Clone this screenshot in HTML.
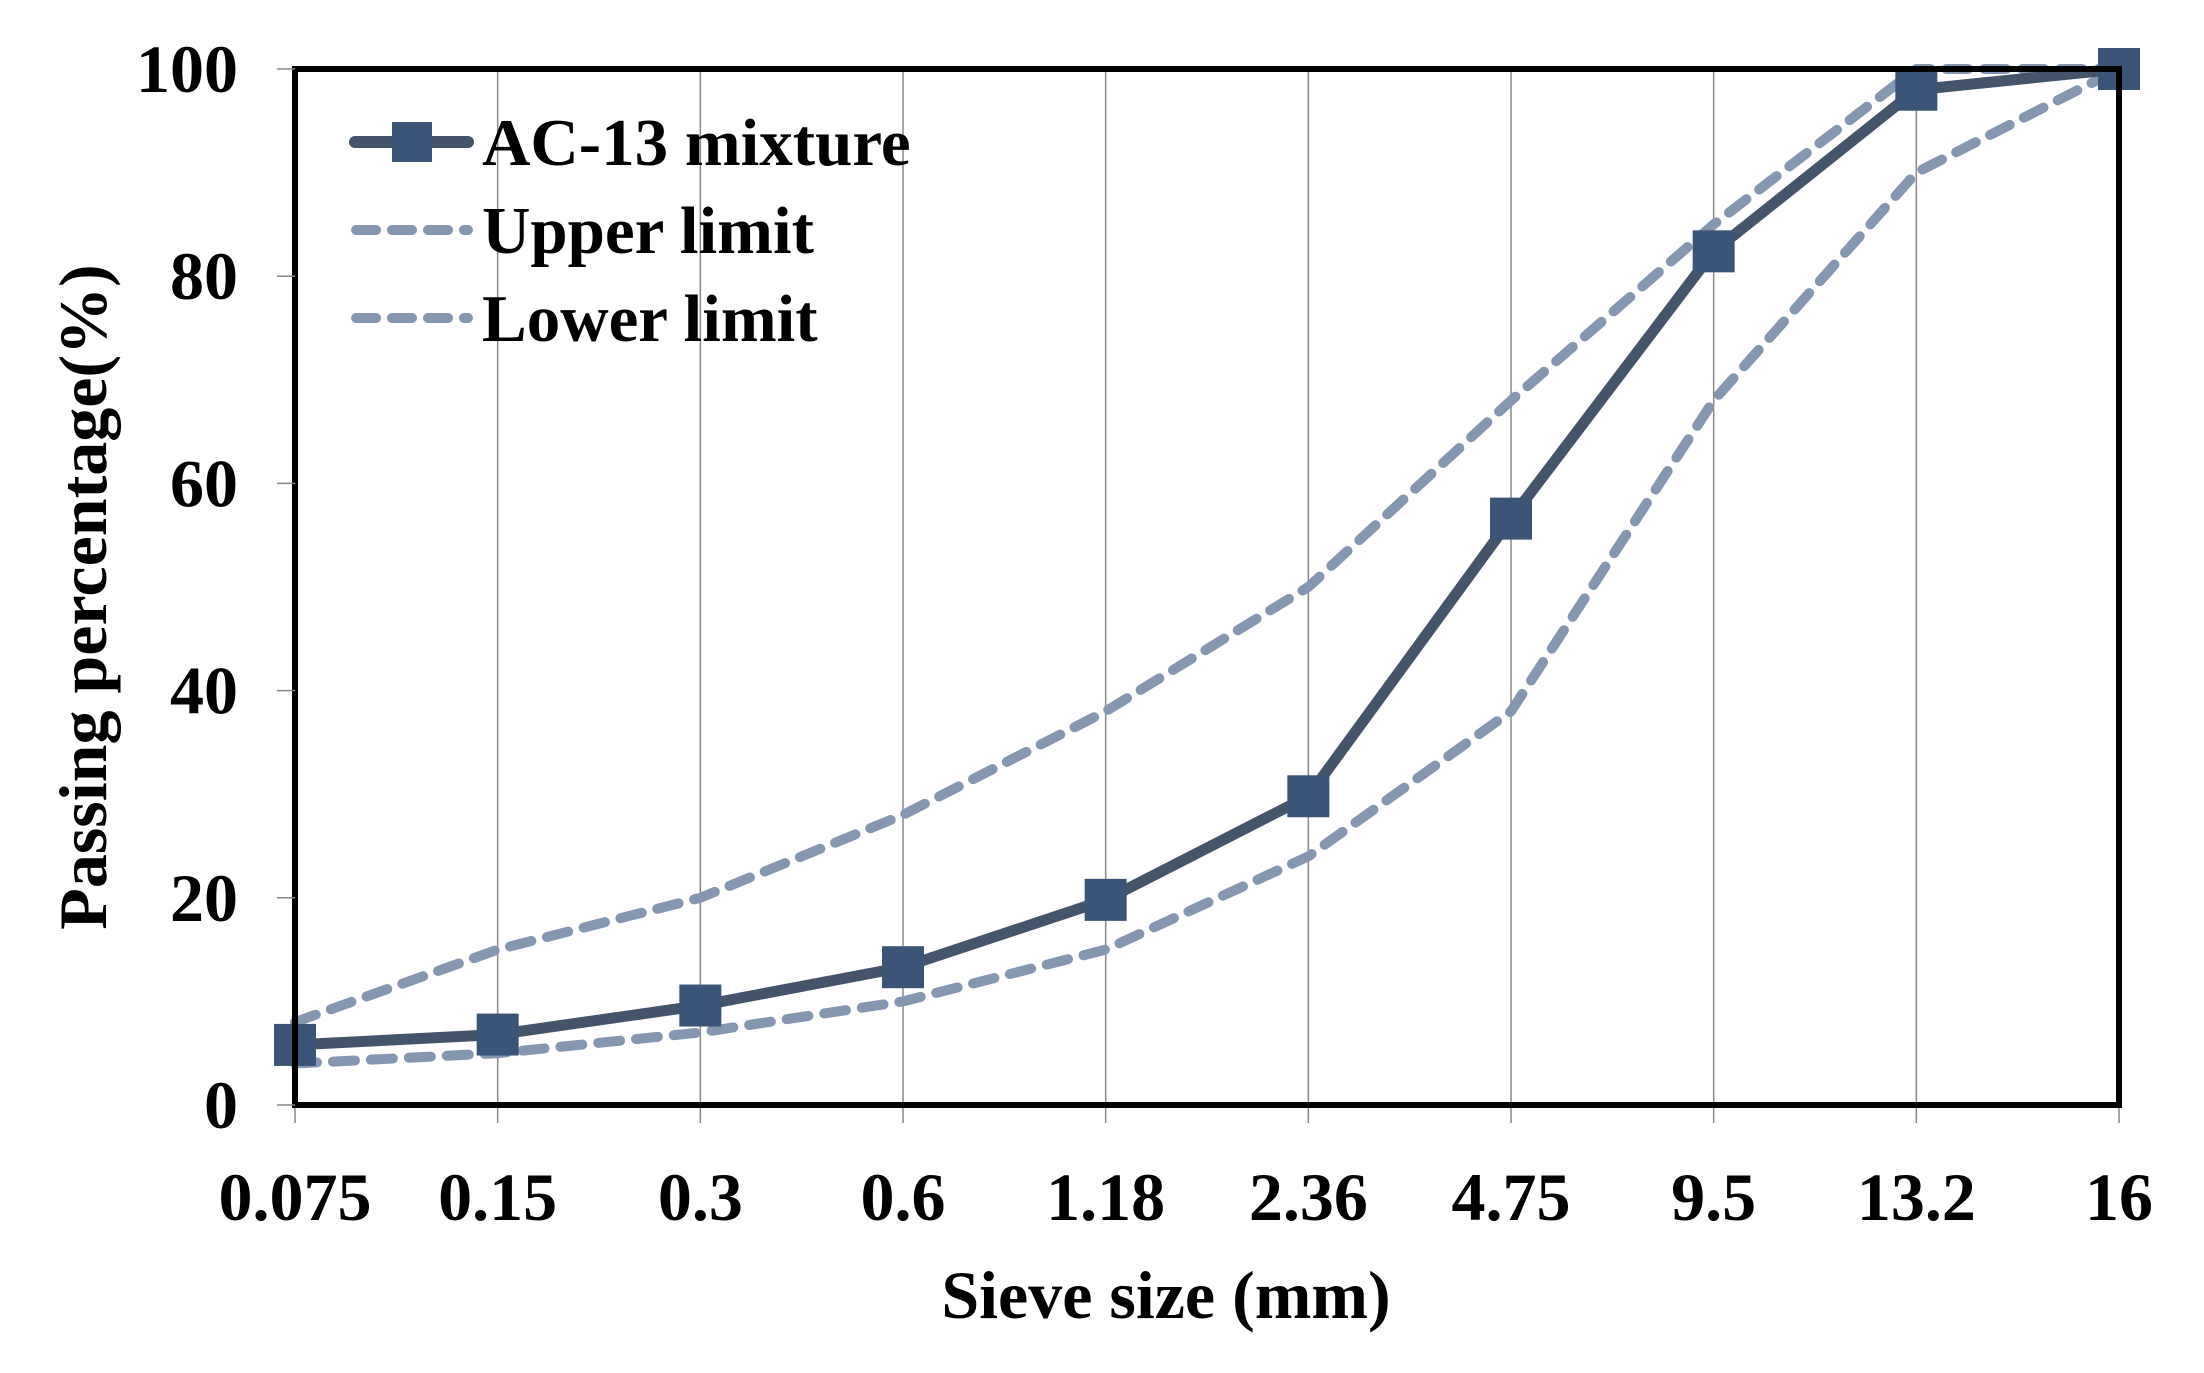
<!DOCTYPE html>
<html><head><meta charset="utf-8"><style>
html,body{margin:0;padding:0;background:#fff;}
svg text{font-family:"Liberation Serif",serif;font-weight:bold;fill:#000;}
</style></head><body>
<svg id="chart" width="2204" height="1368" viewBox="0 0 2204 1368" xmlns="http://www.w3.org/2000/svg">
<g id="grid"></g>
<g id="series"></g>
<rect x="295" y="69" width="1824" height="1036" fill="none" stroke="#000" stroke-width="6"/>
<g id="ticks"></g>
<text x="1166" y="1318" font-size="68" text-anchor="middle">Sieve size (mm)</text>
<text transform="translate(106,597) rotate(-90)" font-size="68" text-anchor="middle">Passing percentage(%)</text>
<g>
  <g>
    <line x1="355" y1="142" x2="468" y2="142" stroke="#44546a" stroke-width="12" stroke-linecap="round"/>
    <rect x="392" y="122" width="40" height="40" fill="#3b5579"/>
    <text x="482" y="165" font-size="67">AC-13 mixture</text>
  </g>
  <g>
    <line x1="356" y1="230" x2="468" y2="230" stroke="#8496b0" stroke-width="10" stroke-dasharray="20 16" stroke-linecap="round"/>
    <text x="482" y="253" font-size="67">Upper limit</text>
  </g>
  <g>
    <line x1="356" y1="318" x2="468" y2="318" stroke="#8496b0" stroke-width="10" stroke-dasharray="20 16" stroke-linecap="round"/>
    <text x="482" y="341" font-size="67">Lower limit</text>
  </g>
</g>
</svg>
<script>
const categories = ["0.075","0.15","0.3","0.6","1.18","2.36","4.75","9.5","13.2","16"];
const mixture = [5.8, 6.8, 9.6, 13.3, 19.8, 29.8, 56.6, 82.4, 98, 100];
const upper = [8, 15, 20, 28, 38, 50, 68, 85, 100, 100];
const lower = [4, 5, 7, 10, 15, 24, 38, 68, 90, 100];
const yTicks = [0, 20, 40, 60, 80, 100];

const NS = "http://www.w3.org/2000/svg";
const L = 295, R = 2119, T = 69, B = 1105;
function xs(i){ return L + (R - L) * i / (categories.length - 1); }
function ys(v){ return B - (B - T) * v / 100; }
function mk(tag, attrs, parent){
  const e = document.createElementNS(NS, tag);
  for (const k in attrs) e.setAttribute(k, attrs[k]);
  parent.appendChild(e);
  return e;
}
const grid = document.getElementById('grid');
const ticks = document.getElementById('ticks');
const series = document.getElementById('series');

categories.forEach((c, i) => {
  const g = mk('line', {x1: xs(i), x2: xs(i), y1: T, y2: B + 18, stroke: '#888', 'stroke-width': 1.5}, grid);
  
  
  const t = mk('text', {x: xs(i), y: 1220, 'font-size': 68, 'text-anchor': 'middle'}, ticks);
  t.textContent = c;
  
  
});
yTicks.forEach(v => {
  const tk = mk('line', {x1: L - 18, x2: L, y1: ys(v), y2: ys(v), stroke: '#888', 'stroke-width': 1.5}, ticks);
  
  
  const t = mk('text', {x: 238, y: ys(v) + 23, 'font-size': 68, 'text-anchor': 'end'}, ticks);
  t.textContent = v;
  
  
});

function pts(arr){ return arr.map((v, i) => xs(i) + ',' + ys(v)).join(' '); }
const up = mk('polyline', {points: pts(upper), fill: 'none', stroke: '#8496b0', 'stroke-width': 10, 'stroke-dasharray': '22 16', 'stroke-linecap': 'round', 'stroke-linejoin': 'round'}, series);


const lo = mk('polyline', {points: pts(lower), fill: 'none', stroke: '#8496b0', 'stroke-width': 10, 'stroke-dasharray': '22 16', 'stroke-linecap': 'round', 'stroke-linejoin': 'round'}, series);


const mx = mk('polyline', {points: pts(mixture), fill: 'none', stroke: '#44546a', 'stroke-width': 11, 'stroke-linejoin': 'round'}, series);


mixture.forEach((v, i) => {
  const s = 42;
  const r = mk('rect', {x: xs(i) - s/2, y: ys(v) - s/2, width: s, height: s, fill: '#3b5579'}, series);
  
  
});
</script>
</body></html>
